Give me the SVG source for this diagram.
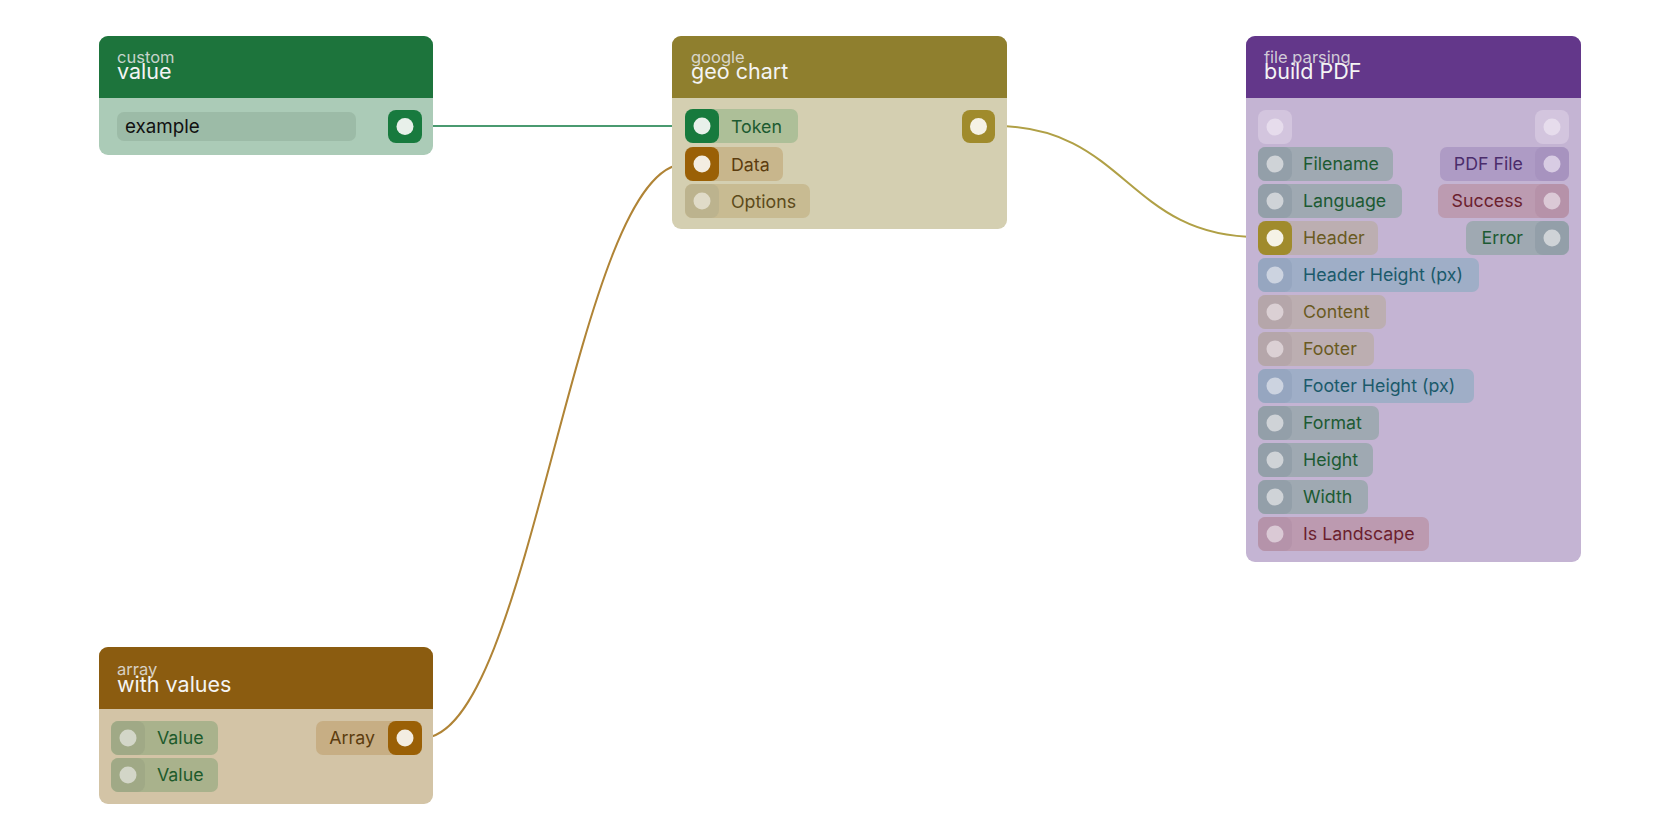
<svg xmlns="http://www.w3.org/2000/svg" width="1680" height="840" viewBox="0 0 1680 840">
<style>
text{font-family:Inter,"Noto Sans","Liberation Sans",sans-serif}
.sub{font-size:16.5px;fill:#e6e6e6;fill-opacity:0.85}
.ttl{font-size:21.5px;fill:#f4f4f4}
.lbl{font-size:17.8px}
.fld{font-size:18.8px}
.end{text-anchor:end}
.conn{fill:none;stroke-width:2}
</style>
<rect width="1680" height="840" fill="#ffffff"/>
<g id="connectors">
<path class="conn" stroke="#4a9a70" d="M422,126 L685,126"/>
<path class="conn" stroke="#b08436" d="M422,738 C532,738 575,164 685,164"/>
<path class="conn" stroke="#b0a046" d="M995,126 C1126,126 1127,237 1258,237"/>
</g>
<g id="node-custom-value">
<rect x="99" y="36" width="334" height="119" rx="9" fill="#abcbb7"/>
<path d="M99,98 V45 a9,9 0 0 1 9,-9 H424 a9,9 0 0 1 9,9 V98 Z" fill="#1d743c"/>
<text class="sub" x="117" y="63">custom</text>
<text class="ttl" x="117" y="79">value</text>
<rect x="117" y="112" width="239" height="29" rx="7" fill="#9cbba7"/>
<text class="fld" x="125" y="133" fill="#111">example</text>
<rect x="388" y="110" width="34" height="33" rx="8" fill="#187a3e"/>
<circle cx="405" cy="126.5" r="8.5" fill="#e8f0ea"/>
</g>
<g id="node-geo-chart">
<rect x="672" y="36" width="335" height="193" rx="9" fill="#d4cfb1"/>
<path d="M672,98 V45 a9,9 0 0 1 9,-9 H998 a9,9 0 0 1 9,9 V98 Z" fill="#8f7f2e"/>
<text class="sub" x="691" y="63">google</text>
<text class="ttl" x="691" y="79">geo chart</text>
<rect x="685" y="109" width="113" height="34" rx="7" fill="#adbf98"/>
<rect x="685" y="109" width="34" height="34" rx="8" fill="#177a3d"/>
<circle cx="702" cy="126" r="8.5" fill="#e8f0ea"/>
<text class="lbl" x="731" y="132.5" fill="#1c5a30">Token</text>
<rect x="685" y="147" width="98" height="34" rx="7" fill="#c8b68c"/>
<rect x="685" y="147" width="34" height="34" rx="8" fill="#9a6006"/>
<circle cx="702" cy="164" r="8.5" fill="#f3ede2"/>
<text class="lbl" x="731" y="170.5" fill="#5c3c0e">Data</text>
<rect x="685" y="184" width="125" height="34" rx="7" fill="#c8bb92"/>
<rect x="685" y="184" width="34" height="34" rx="8" fill="#bcb38e"/>
<circle cx="702" cy="201" r="8.5" fill="#e0dbc8"/>
<text class="lbl" x="731" y="207.5" fill="#5c4a1a">Options</text>
<rect x="962" y="110" width="33" height="33" rx="8" fill="#a08b2c"/>
<circle cx="978.5" cy="126.5" r="8.5" fill="#f5f2e6"/>
</g>
<g id="node-build-pdf">
<rect x="1246" y="36" width="335" height="526" rx="9" fill="#c4b4d3"/>
<path d="M1246,98 V45 a9,9 0 0 1 9,-9 H1572 a9,9 0 0 1 9,9 V98 Z" fill="#63378a"/>
<text class="sub" x="1264" y="63">file parsing</text>
<text class="ttl" x="1264" y="79">build PDF</text>
<rect x="1258" y="110" width="34" height="34" rx="8" fill="#d3c5de"/>
<circle cx="1275" cy="127" r="8.5" fill="#e6dcec"/>
<rect x="1535" y="110" width="34" height="34" rx="8" fill="#d3c5de"/>
<circle cx="1552" cy="127" r="8.5" fill="#e6dcec"/>
<rect x="1258" y="147" width="135" height="34" rx="7" fill="#9fa9b2"/>
<rect x="1258" y="147" width="34" height="34" rx="8" fill="#939fa9"/>
<circle cx="1275" cy="164" r="8.5" fill="#cfd3d7"/>
<text class="lbl" x="1303" y="170" fill="#1c5a32">Filename</text>
<rect x="1440" y="147" width="129" height="34" rx="7" fill="#ae9bc5"/>
<rect x="1535" y="147" width="34" height="34" rx="8" fill="#a793bf"/>
<circle cx="1552" cy="164" r="8.5" fill="#d8cce3"/>
<text class="lbl end" x="1523" y="170" fill="#4b2c6b">PDF File</text>
<rect x="1258" y="184" width="144" height="34" rx="7" fill="#9fa9b2"/>
<rect x="1258" y="184" width="34" height="34" rx="8" fill="#939fa9"/>
<circle cx="1275" cy="201" r="8.5" fill="#cfd3d7"/>
<text class="lbl" x="1303" y="207" fill="#1c5a32">Language</text>
<rect x="1438" y="184" width="131" height="34" rx="7" fill="#bc9bb1"/>
<rect x="1535" y="184" width="34" height="34" rx="8" fill="#b692a9"/>
<circle cx="1552" cy="201" r="8.5" fill="#dbc9d6"/>
<text class="lbl end" x="1523" y="207" fill="#6b1f2e">Success</text>
<rect x="1258" y="221" width="120" height="34" rx="7" fill="#bcaeb1"/>
<rect x="1258" y="221" width="34" height="34" rx="8" fill="#a08b2c"/>
<circle cx="1275" cy="238" r="8.5" fill="#f5f2e6"/>
<text class="lbl" x="1303" y="244" fill="#6a5a22">Header</text>
<rect x="1466" y="221" width="103" height="34" rx="7" fill="#9fa9b2"/>
<rect x="1535" y="221" width="34" height="34" rx="8" fill="#939fa9"/>
<circle cx="1552" cy="238" r="8.5" fill="#cfd3d7"/>
<text class="lbl end" x="1523" y="244" fill="#1c5a32">Error</text>
<rect x="1258" y="258" width="221" height="34" rx="7" fill="#9faec7"/>
<rect x="1258" y="258" width="34" height="34" rx="8" fill="#96a6c0"/>
<circle cx="1275" cy="275" r="8.5" fill="#ccd3e0"/>
<text class="lbl" x="1303" y="281" fill="#1b5a6b">Header Height (px)</text>
<rect x="1258" y="295" width="128" height="34" rx="7" fill="#bcaeb1"/>
<rect x="1258" y="295" width="34" height="34" rx="8" fill="#b5a6aa"/>
<circle cx="1275" cy="312" r="8.5" fill="#dbd0d4"/>
<text class="lbl" x="1303" y="318" fill="#6a5a22">Content</text>
<rect x="1258" y="332" width="116" height="34" rx="7" fill="#bcaeb1"/>
<rect x="1258" y="332" width="34" height="34" rx="8" fill="#b5a6aa"/>
<circle cx="1275" cy="349" r="8.5" fill="#dbd0d4"/>
<text class="lbl" x="1303" y="355" fill="#6a5a22">Footer</text>
<rect x="1258" y="369" width="216" height="34" rx="7" fill="#9faec7"/>
<rect x="1258" y="369" width="34" height="34" rx="8" fill="#96a6c0"/>
<circle cx="1275" cy="386" r="8.5" fill="#ccd3e0"/>
<text class="lbl" x="1303" y="392" fill="#1b5a6b">Footer Height (px)</text>
<rect x="1258" y="406" width="121" height="34" rx="7" fill="#9fa9b2"/>
<rect x="1258" y="406" width="34" height="34" rx="8" fill="#939fa9"/>
<circle cx="1275" cy="423" r="8.5" fill="#cfd3d7"/>
<text class="lbl" x="1303" y="429" fill="#1c5a32">Format</text>
<rect x="1258" y="443" width="115" height="34" rx="7" fill="#9fa9b2"/>
<rect x="1258" y="443" width="34" height="34" rx="8" fill="#939fa9"/>
<circle cx="1275" cy="460" r="8.5" fill="#cfd3d7"/>
<text class="lbl" x="1303" y="466" fill="#1c5a32">Height</text>
<rect x="1258" y="480" width="110" height="34" rx="7" fill="#9fa9b2"/>
<rect x="1258" y="480" width="34" height="34" rx="8" fill="#939fa9"/>
<circle cx="1275" cy="497" r="8.5" fill="#cfd3d7"/>
<text class="lbl" x="1303" y="503" fill="#1c5a32">Width</text>
<rect x="1258" y="517" width="171" height="34" rx="7" fill="#bc9ab0"/>
<rect x="1258" y="517" width="34" height="34" rx="8" fill="#b593aa"/>
<circle cx="1275" cy="534" r="8.5" fill="#dac9d5"/>
<text class="lbl" x="1303" y="540" fill="#6b1f2e">Is Landscape</text>
</g>
<g id="node-array-with-values">
<rect x="99" y="647" width="334" height="157" rx="9" fill="#d3c4a6"/>
<path d="M99,709 V656 a9,9 0 0 1 9,-9 H424 a9,9 0 0 1 9,9 V709 Z" fill="#8b5c10"/>
<text class="sub" x="117" y="675">array</text>
<text class="ttl" x="117" y="692">with values</text>
<rect x="111" y="721" width="107" height="34" rx="7" fill="#a9b28c"/>
<rect x="111" y="721" width="34" height="34" rx="8" fill="#a0a986"/>
<circle cx="128" cy="738" r="8.5" fill="#d3d6c8"/>
<text class="lbl" x="157" y="744" fill="#1d5a2b">Value</text>
<rect x="111" y="758" width="107" height="34" rx="7" fill="#a9b28c"/>
<rect x="111" y="758" width="34" height="34" rx="8" fill="#a0a986"/>
<circle cx="128" cy="775" r="8.5" fill="#d3d6c8"/>
<text class="lbl" x="157" y="781" fill="#1d5a2b">Value</text>
<rect x="316" y="721" width="106" height="34" rx="7" fill="#c7ae84"/>
<rect x="388" y="721" width="34" height="34" rx="8" fill="#9a6006"/>
<circle cx="405" cy="738" r="8.5" fill="#f3ede2"/>
<text class="lbl end" x="375" y="744" fill="#5c3c0e">Array</text>
</g>
</svg>
